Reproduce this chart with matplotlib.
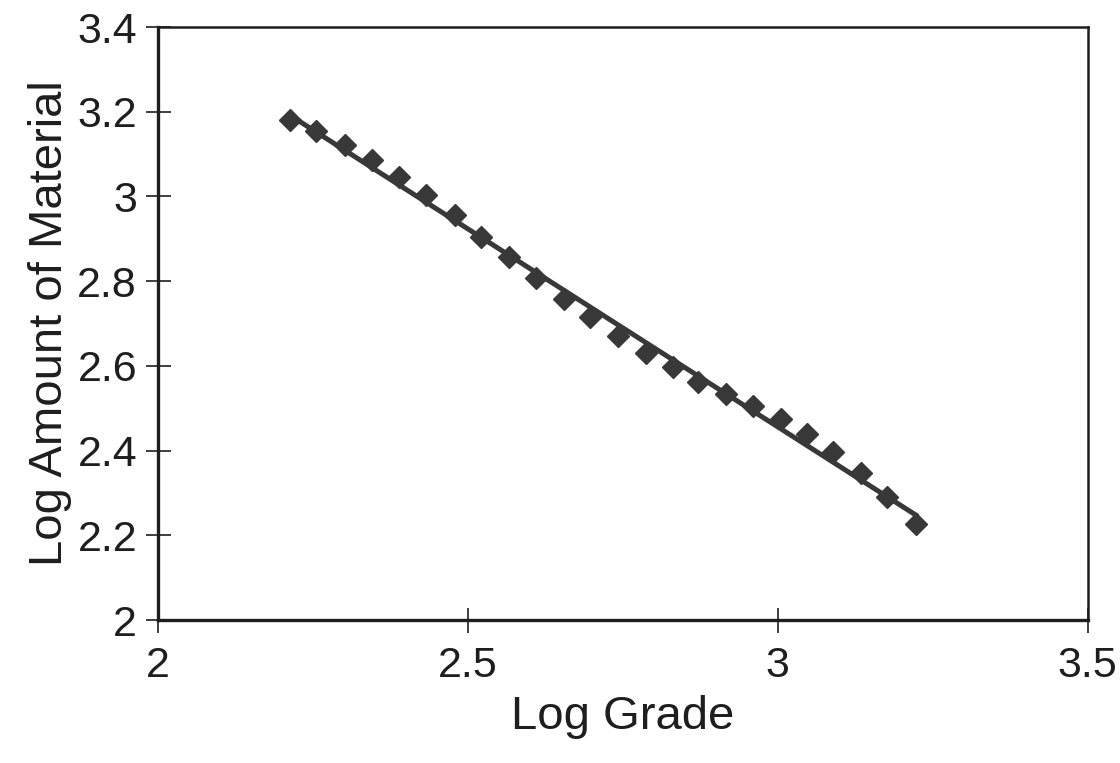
import numpy as np
import matplotlib
matplotlib.use("Agg")
import matplotlib.pyplot as plt

plt.rcParams['font.family'] = ['Liberation Sans', 'DejaVu Sans']

log_grade = [2.213, 2.255, 2.302, 2.345, 2.389, 2.432, 2.479, 2.521, 2.566, 2.610,
             2.655, 2.698, 2.742, 2.787, 2.831, 2.871, 2.916, 2.960, 3.005, 3.047,
             3.089, 3.134, 3.177, 3.223]
log_amount = [3.180, 3.154, 3.121, 3.086, 3.046, 3.003, 2.956, 2.904, 2.857, 2.807,
              2.758, 2.715, 2.670, 2.630, 2.597, 2.562, 2.534, 2.505, 2.475, 2.439,
              2.397, 2.347, 2.290, 2.227]
x_ticks = [2, 2.5, 3, 3.5]
y_ticks = [2, 2.2, 2.4, 2.6, 2.8, 3, 3.2, 3.4]
x_tick_labels = ['2', '2.5', '3', '3.5']
y_tick_labels = ['2', '2.2', '2.4', '2.6', '2.8', '3', '3.2', '3.4']

fig = plt.figure(figsize=(11.2, 7.63), dpi=100)
ax = fig.add_axes([0.141, 0.1874, 0.830, 0.7772])

col = '#383838'
txt = '#1e1e1e'
xs = np.array(log_grade)
ys = np.array(log_amount)
slope, intercept = np.polyfit(xs, ys, 1)
xl = np.array([xs.min(), xs.max()])
ax.plot(xl, slope * xl + intercept, color=col, lw=3.6, zorder=2)
ax.plot(xs, ys, linestyle='none', marker='D', markersize=11, color=col, zorder=3)

ax.set_xlim(2, 3.5)
ax.set_ylim(2, 3.4)
ax.set_xticks(x_ticks)
ax.set_xticklabels(x_tick_labels)
ax.set_yticks(y_ticks)
ax.set_yticklabels(y_tick_labels)

ax.tick_params(axis='both', direction='inout', length=18, width=1.2, colors=txt,
               labelsize=31)
ax.tick_params(axis='x', pad=10)
ax.tick_params(axis='y', pad=6)
for s in ax.spines.values():
    s.set_linewidth(1.8)
    s.set_color(txt)
ax.spines['left'].set_linewidth(2.4)
ax.spines['bottom'].set_linewidth(2.4)

ax.set_xlabel('Log Grade', fontsize=34, color=txt, labelpad=6)
ax.set_ylabel('Log Amount of Material', fontsize=34, color=txt, labelpad=4)

fig.savefig('out.png', dpi=100)
